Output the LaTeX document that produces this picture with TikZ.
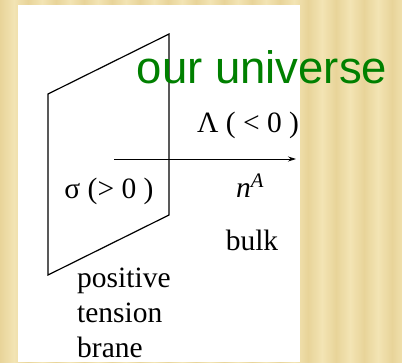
\documentclass[tikz,border=0pt]{standalone}
\usepackage{fontspec}
\setmainfont{Liberation Serif}
\newfontfamily\labelsans{Liberation Sans}
\usepackage{xcolor}
\usetikzlibrary{arrows.meta}
\definecolor{slidelight}{HTML}{F3E4B4}
\definecolor{slidedark}{HTML}{E8D499}
\definecolor{univgreen}{HTML}{008000}

\begin{document}
\begin{tikzpicture}[x=1pt, y=-1pt, >=Stealth,
    serif/.style={font=\fontsize{29.5}{34}\selectfont, inner sep=0pt},
    brane/.style={draw=black, line width=1.2pt, line join=miter}]
  % slide background and white panel
  \useasboundingbox (0,0) rectangle (402,362);
  \fill[slidedark] (0,0) rectangle (402,362);
  \foreach \i in {0,...,14} {
    \shade[left color=slidedark, right color=slidelight] (\i*28,0) rectangle +(14,362);
    \shade[left color=slidelight, right color=slidedark] (\i*28+14,0) rectangle +(14,362);
  }
  \fill[white] (18,5) rectangle (300,362);

  % the brane and its normal
  \draw[brane] (48,94) -- (169,34) -- (169,215) -- (48,275) -- cycle;
  \coordinate (nstart) at (114,159);
  \coordinate (nend) at (296,159);
  \draw[->, line width=0.8pt, >={Stealth[length=8pt, width=5pt]}] (nstart) -- (nend);

  % labels
  \node[font=\labelsans\fontsize{45.5}{50}\selectfont, text=univgreen, inner sep=0pt,
        anchor=base] (univ) at (262,83) {our universe};
  \node[serif, anchor=base] (lambda) at (248,132) {Λ ( < 0 )};
  \node[serif, anchor=base] (sigma) at (109,198) {σ (> 0 )};
  \node[serif, anchor=base] (normal) at (250,197) {\textit{n}\textsuperscript{\textit{A}}};
  \node[serif, anchor=base] (bulk) at (252,250) {bulk};
  \node[serif, anchor=base west] (pos) at (77,287) {positive};
  \node[serif, anchor=base west] (tens) at (77,322) {tension};
  \node[serif, anchor=base west] (bran) at (77,357) {brane};
\end{tikzpicture}
\end{document}
